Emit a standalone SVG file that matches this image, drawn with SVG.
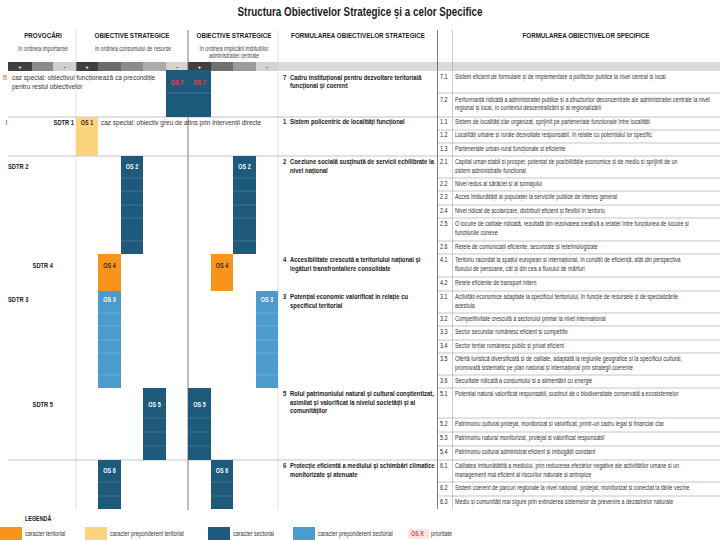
<svg xmlns="http://www.w3.org/2000/svg" width="720" height="540" viewBox="0 0 720 540">
<style>
text{font-family:"Liberation Sans",Arial,sans-serif;fill:#333}
.ti{font-size:12px;font-weight:bold;fill:#1a1a1a}
.h{font-size:7.6px;font-weight:bold;fill:#222}
.hs{font-size:6.3px;fill:#444}
.pm{font-size:6px;font-weight:bold}
.sp{font-size:6.5px}
.spn{font-size:6.6px;fill:#222}
.st{font-size:7.2px;font-weight:bold;fill:#1a1a1a}
.cz{font-size:7.9px}
.sd{font-size:7px;font-weight:bold;fill:#1a1a1a}
.os{font-size:6.6px;font-weight:bold;fill:#fff}
.osd{font-size:6.6px;font-weight:bold;fill:#3a2a10}
.osr{font-size:6.6px;font-weight:bold;fill:#e8453c}
.red{font-size:7.5px;font-weight:bold;fill:#d8302a}
.lg{font-size:6.6px}
.lgh{font-size:6.6px;font-weight:bold;fill:#1a1a1a}
.m{text-anchor:middle}
.e{text-anchor:end}
.rl{stroke:#8a8a8a;stroke-width:.5}
.fl{stroke:#9a9a9a;stroke-width:.6}
.bl{stroke:#fff;stroke-opacity:.28;stroke-width:.6}
.db{fill:#1d5a7c}
.lb{fill:#4b9ccc}
.or{fill:#f7941e}
.ye{fill:#fcd47e}
</style>

<g id="title">
<text class="ti m" transform="matrix(.82 0 0 1 360 16)">Structura Obiectivelor Strategice și a celor Specifice</text>
</g>

<g id="header">
<text class="h m" transform="matrix(.82 0 0 1 43 38)">PROVOCĂRI</text>
<text class="hs m" transform="matrix(.82 0 0 1 43 51)">în ordinea importanței</text>
<text class="h m" transform="matrix(.82 0 0 1 132 38)">OBIECTIVE STRATEGICE</text>
<text class="hs m" transform="matrix(.82 0 0 1 133 51)">în ordinea consumului de resurse</text>
<text class="h m" transform="matrix(.82 0 0 1 234 38)">OBIECTIVE STRATEGICE</text>
<text class="hs m" transform="matrix(.82 0 0 1 234 51)">în ordinea implicării instituțiilor</text>
<text class="hs m" transform="matrix(.82 0 0 1 234 58)">administrației centrale</text>
<text class="h m" transform="matrix(.82 0 0 1 358 38)">FORMULAREA OBIECTIVELOR STRATEGICE</text>
<text class="h m" transform="matrix(.82 0 0 1 586 38)">FORMULAREA OBIECTIVELOR SPECIFICE</text>
<g id="scale-bar">
<rect x="278" y="62" width="442" height="9" fill="#dadada"/>
<rect x="8" y="62" width="24" height="9" fill="#404040"/>
<rect x="32" y="62" width="21" height="9" fill="#8a8a8a"/>
<rect x="53" y="62" width="23" height="9" fill="#cfcfcf"/>
<rect x="76" y="62" width="22" height="9" fill="#404040"/>
<rect x="98" y="62" width="23" height="9" fill="#6c6c6c"/>
<rect x="121" y="62" width="22" height="9" fill="#8c8c8c"/>
<rect x="143" y="62" width="23" height="9" fill="#ababab"/>
<rect x="166" y="62" width="22" height="9" fill="#d3d3d3"/>
<rect x="188" y="62" width="23" height="9" fill="#404040"/>
<rect x="211" y="62" width="22" height="9" fill="#707070"/>
<rect x="233" y="62" width="23" height="9" fill="#9b9b9b"/>
<rect x="256" y="62" width="22" height="9" fill="#d3d3d3"/>
<text class="pm m" x="20" y="68.5" style="fill:#fff">+</text>
<text class="pm m" x="64.5" y="68.5">-</text>
<text class="pm m" x="87" y="68.5" style="fill:#fff">+</text>
<text class="pm m" x="177" y="68.5">-</text>
<text class="pm m" x="199.5" y="68.5" style="fill:#fff">+</text>
<text class="pm m" x="267" y="68.5">-</text>
</g>
</g>

<g id="grid">
<line x1="76" y1="30" x2="76" y2="510" stroke="#d0d0d0" stroke-width=".6"/>
<line x1="278" y1="30" x2="278" y2="510" stroke="#d0d0d0" stroke-width=".6"/>
<line x1="452.5" y1="30" x2="452.5" y2="509" stroke="#aaa" stroke-width=".6"/>
<line x1="188" y1="30" x2="188" y2="510" stroke="#5a5a5a" stroke-width=".8"/>
<line x1="437.5" y1="30" x2="437.5" y2="509" stroke="#5a5a5a" stroke-width=".8"/>
<line class="fl" x1="8" y1="117" x2="720" y2="117"/>
<line class="fl" x1="8" y1="156" x2="720" y2="156"/>
<line class="fl" x1="8" y1="460" x2="720" y2="460"/>
<g id="row-lines">
<line class="rl" x1="437" y1="93" x2="720" y2="93"/>
<line class="rl" x1="437" y1="130" x2="720" y2="130"/>
<line class="rl" x1="437" y1="143" x2="720" y2="143"/>
<line class="rl" x1="437" y1="178" x2="720" y2="178"/>
<line class="rl" x1="437" y1="191" x2="720" y2="191"/>
<line class="rl" x1="437" y1="205" x2="720" y2="205"/>
<line class="rl" x1="437" y1="218" x2="720" y2="218"/>
<line class="rl" x1="437" y1="241" x2="720" y2="241"/>
<line class="rl" x1="437" y1="254" x2="720" y2="254"/>
<line class="rl" x1="437" y1="277" x2="720" y2="277"/>
<line class="rl" x1="437" y1="291" x2="720" y2="291"/>
<line class="rl" x1="437" y1="313" x2="720" y2="313"/>
<line class="rl" x1="437" y1="326" x2="720" y2="326"/>
<line class="rl" x1="437" y1="340" x2="720" y2="340"/>
<line class="rl" x1="437" y1="353" x2="720" y2="353"/>
<line class="rl" x1="437" y1="375" x2="720" y2="375"/>
<line class="rl" x1="437" y1="388" x2="720" y2="388"/>
<line class="rl" x1="437" y1="418" x2="720" y2="418"/>
<line class="rl" x1="437" y1="432" x2="720" y2="432"/>
<line class="rl" x1="437" y1="446" x2="720" y2="446"/>
<line class="rl" x1="437" y1="482" x2="720" y2="482"/>
<line class="rl" x1="437" y1="496" x2="720" y2="496"/>
</g>
</g>

<g id="blocks">
<g id="os7">
<rect class="db" x="166" y="70" width="22" height="47"/>
<rect class="db" x="188" y="70" width="23" height="47"/>
<line class="bl" x1="166" y1="93" x2="211" y2="93"/>
<text class="osr m" transform="matrix(.82 0 0 1 177 85)">OS 7</text>
<text class="osr m" transform="matrix(.82 0 0 1 199.5 85)">OS 7</text>
</g>
<g id="os1">
<rect class="ye" x="76" y="117" width="22" height="39"/>
<text class="osd m" transform="matrix(.82 0 0 1 87 124.5)">OS 1</text>
</g>
<g id="os2">
<rect class="db" x="121" y="156" width="22" height="98"/>
<rect class="db" x="233" y="156" width="23" height="98"/>
<path class="bl" d="M121 178H143M121 191H143M121 205H143M121 218H143M121 241H143M233 178H256M233 191H256M233 205H256M233 218H256M233 241H256"/>
<text class="os m" transform="matrix(.82 0 0 1 132 169)">OS 2</text>
<text class="os m" transform="matrix(.82 0 0 1 244.5 169)">OS 2</text>
</g>
<g id="os4">
<rect class="or" x="98" y="254" width="23" height="37"/>
<rect class="or" x="211" y="254" width="22" height="37"/>
<text class="osd m" transform="matrix(.82 0 0 1 109.5 268)">OS 4</text>
<text class="osd m" transform="matrix(.82 0 0 1 222 268)">OS 4</text>
</g>
<g id="os3">
<rect class="lb" x="98" y="291" width="23" height="97"/>
<rect class="lb" x="256" y="291" width="22" height="97"/>
<path class="bl" d="M98 313H121M98 326H121M98 340H121M98 353H121M98 375H121M256 313H278M256 326H278M256 340H278M256 353H278M256 375H278"/>
<text class="os m" transform="matrix(.82 0 0 1 109.5 302)">OS 3</text>
<text class="os m" transform="matrix(.82 0 0 1 267 302)">OS 3</text>
</g>
<g id="os5">
<rect class="db" x="143" y="388" width="23" height="72"/>
<rect class="db" x="188" y="388" width="23" height="72"/>
<path class="bl" d="M143 418H166M143 432H166M143 446H166M188 418H211M188 432H211M188 446H211"/>
<text class="os m" transform="matrix(.82 0 0 1 154.5 407)">OS 5</text>
<text class="os m" transform="matrix(.82 0 0 1 199.5 407)">OS 5</text>
</g>
<g id="os6">
<rect class="db" x="98" y="460" width="23" height="49"/>
<rect class="db" x="211" y="460" width="22" height="49"/>
<path class="bl" d="M98 482H121M98 496H121M211 482H233M211 496H233"/>
<text class="os m" transform="matrix(.82 0 0 1 109.5 473)">OS 6</text>
<text class="os m" transform="matrix(.82 0 0 1 222 473)">OS 6</text>
</g>
</g>

<g id="challenges">
<text class="red" transform="matrix(.82 0 0 1 3 80)">!!</text>
<text class="cz" transform="matrix(.82 0 0 1 12 80)">caz special: obiectivul funcționează ca precondiție</text>
<text class="cz" transform="matrix(.82 0 0 1 12 89)">pentru restul obiectivelor</text>
<text class="red" transform="matrix(.82 0 0 1 5.5 124.5)">!</text>
<text class="sd e" transform="matrix(.82 0 0 1 74 124.5)">SDTR 1</text>
<text class="cz" transform="matrix(.82 0 0 1 101 124.5)">caz special: obiectiv greu de atins prin intervenții directe</text>
<text class="sd" transform="matrix(.82 0 0 1 8 169)">SDTR 2</text>
<text class="sd e" transform="matrix(.82 0 0 1 53 268)">SDTR 4</text>
<text class="sd" transform="matrix(.82 0 0 1 8 302)">SDTR 3</text>
<text class="sd e" transform="matrix(.82 0 0 1 53 407)">SDTR 5</text>
</g>

<g id="strategic-numbers" transform="translate(283 0) scale(.82 1)">
<text class="st" y="80">7</text>
<text class="st" y="124.5">1</text>
<text class="st" y="164.5">2</text>
<text class="st" y="262.5">4</text>
<text class="st" y="299.5">3</text>
<text class="st" y="396.5">5</text>
<text class="st" y="468.5">6</text>
</g>
<g id="strategic-texts" transform="translate(290 0) scale(.82 1)">
<text class="st" y="80">Cadru instituțional pentru dezvoltare teritorială</text>
<text class="st" y="88.5">funcțional și coerent</text>
<text class="st" y="124.5">Sistem policentric de localități funcțional</text>
<text class="st" y="164.5">Coeziune socială susținută de servicii echilibrate la</text>
<text class="st" y="173">nivel național</text>
<text class="st" y="262.5">Accesibilitate crescută a teritoriului național și</text>
<text class="st" y="271">legături transfrontaliere consolidate</text>
<text class="st" y="299.5">Potențial economic valorificat în relație cu</text>
<text class="st" y="308">specificul teritorial</text>
<text class="st" y="396.5">Rolul patrimoniului natural și cultural conștientizat,</text>
<text class="st" y="405">asimilat și valorificat la nivelul societății și al</text>
<text class="st" y="413.5">comunităților</text>
<text class="st" y="468.5">Protecție eficientă a mediului și schimbări climatice</text>
<text class="st" y="477">monitorizate și atenuate</text>
</g>

<g id="specific-numbers" transform="translate(440 0) scale(.82 1)">
<text class="spn" y="79">7.1</text>
<text class="spn" y="102">7.2</text>
<text class="spn" y="124.5">1.1</text>
<text class="spn" y="137.5">1.2</text>
<text class="spn" y="151">1.3</text>
<text class="spn" y="164.5">2.1</text>
<text class="spn" y="186.5">2.2</text>
<text class="spn" y="199.5">2.3</text>
<text class="spn" y="213.5">2.4</text>
<text class="spn" y="226.5">2.5</text>
<text class="spn" y="249.5">2.6</text>
<text class="spn" y="262.5">4.1</text>
<text class="spn" y="285.5">4.2</text>
<text class="spn" y="299.5">3.1</text>
<text class="spn" y="321.5">3.2</text>
<text class="spn" y="334.5">3.3</text>
<text class="spn" y="348.5">3.4</text>
<text class="spn" y="361.5">3.5</text>
<text class="spn" y="383.5">3.6</text>
<text class="spn" y="396.5">5.1</text>
<text class="spn" y="426.5">5.2</text>
<text class="spn" y="440.5">5.3</text>
<text class="spn" y="454.5">5.4</text>
<text class="spn" y="468.5">6.1</text>
<text class="spn" y="490.5">6.2</text>
<text class="spn" y="504">6.3</text>
</g>
<g id="specific-texts" transform="translate(455 0) scale(.82 1)">
<text class="sp" y="79">Sistem eficient de formulare și de implementare a politicilor publice la nivel central și local</text>
<text class="sp" y="102">Performanță ridicată a administrației publice și a structurilor deconcentrate ale administrației centrale la nivel</text>
<text class="sp" y="110">regional și local, în contextul descentralizării și al regionalizării</text>
<text class="sp" y="124.5">Sistem de localități clar organizat, sprijinit pe parteneriate funcționale între localități</text>
<text class="sp" y="137.5">Localități urbane și rurale dezvoltate responsabil, în relație cu potențialul lor specific</text>
<text class="sp" y="151">Parteneriate urban-rural funcționale și eficiente</text>
<text class="sp" y="164.5">Capital uman stabil și prosper, potențat de posibilitățile economice și de mediu și sprijinit de un</text>
<text class="sp" y="173">sistem administrativ funcțional</text>
<text class="sp" y="186.5">Nivel redus al sărăciei și al șomajului</text>
<text class="sp" y="199.5">Acces îmbunătățit al populației la serviciile publice de interes general</text>
<text class="sp" y="213.5">Nivel ridicat de școlarizare, distribuit eficient și flexibil în teritoriu</text>
<text class="sp" y="226.5">O locuire de calitate ridicată, rezultată din rezolvarea creativă a relației între funcțiunea de locuire și</text>
<text class="sp" y="235">funcțiunile conexe</text>
<text class="sp" y="249.5">Rețele de comunicații eficiente, securizate și retehnologizate</text>
<text class="sp" y="262.5">Teritoriu racordat la spațiul european și internațional, în condiții de eficiență, atât din perspectiva</text>
<text class="sp" y="271">fluxului de persoane, cât și din cea a fluxului de mărfuri</text>
<text class="sp" y="285.5">Rețele eficiente de transport intern</text>
<text class="sp" y="299.5">Activități economice adaptate la specificul teritoriului, în funcție de resursele și de specializările</text>
<text class="sp" y="308">acestuia</text>
<text class="sp" y="321.5">Competitivitate crescută a sectorului primar la nivel internațional</text>
<text class="sp" y="334.5">Sector secundar românesc eficient și competitiv</text>
<text class="sp" y="348.5">Sector terțiar românesc public și privat eficient</text>
<text class="sp" y="361.5">Ofertă turistică diversificată și de calitate, adaptată la regiunile geografice și la specificul cultural,</text>
<text class="sp" y="370">promovată sistematic pe plan național și internațional prin strategii coerente</text>
<text class="sp" y="383.5">Securitate ridicată a consumului și a alimentării cu energie</text>
<text class="sp" y="396.5">Potențial natural valorificat responsabil, susținut de o biodiversitate conservată a ecosistemelor</text>
<text class="sp" y="426.5">Patrimoniu cultural protejat, monitorizat și valorificat, printr-un cadru legal și financiar clar</text>
<text class="sp" y="440.5">Patrimoniu natural monitorizat, protejat și valorificat responsabil</text>
<text class="sp" y="454.5">Patrimoniu cultural administrat eficient și îmbogățit constant</text>
<text class="sp" y="468.5">Calitatea îmbunătățită a mediului, prin reducerea efectelor negative ale activităților umane și un</text>
<text class="sp" y="477">management mai eficient al riscurilor naturale și antropice</text>
<text class="sp" y="490.5">Sistem coerent de parcuri regionale la nivel național, protejat, monitorizat și conectat la țările vecine</text>
<text class="sp" y="504">Mediu și comunități mai sigure prin extinderea sistemelor de prevenire a dezastrelor naturale</text>
</g>

<g id="legend">
<text class="lgh" transform="matrix(.82 0 0 1 25 521)">LEGENDĂ</text>
<rect class="or" x="0" y="527" width="22" height="13"/>
<text class="lg" transform="matrix(.82 0 0 1 25 536)">caracter teritorial</text>
<rect class="ye" x="85" y="527" width="22" height="13"/>
<text class="lg" transform="matrix(.82 0 0 1 110 536)">caracter preponderent teritorial</text>
<rect class="db" x="208" y="527" width="22" height="13"/>
<text class="lg" transform="matrix(.82 0 0 1 233 536)">caracter sectorial</text>
<rect class="lb" x="293" y="527" width="22" height="13"/>
<text class="lg" transform="matrix(.82 0 0 1 318 536)">caracter preponderent sectorial</text>
<rect x="408" y="529" width="21" height="10" fill="#fbe6e4"/>
<text class="osr" transform="matrix(.82 0 0 1 411 536)">OS X</text>
<text class="lg" transform="matrix(.82 0 0 1 431 536)">prioritate</text>
</g>
</svg>
